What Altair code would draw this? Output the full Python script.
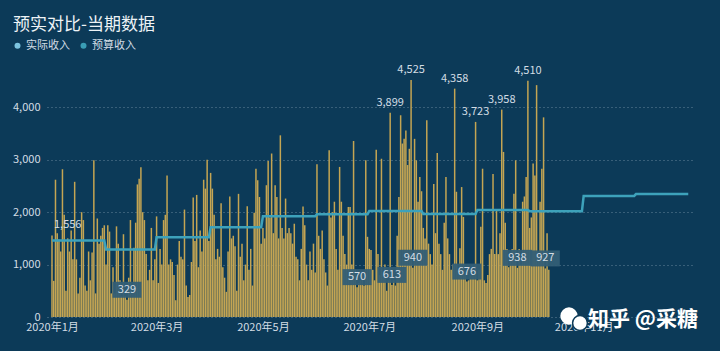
import altair as alt
import pandas as pd

# ---- data ----
jan = [1556, 690, 2620, 1600, 1480, 1250, 2820, 1950, 500, 1500, 1250, 1650, 1100, 2580, 1100, 450,
       750, 2000, 1850, 600, 500, 1250, 700, 1230, 2990, 450, 1880, 1400, 1550, 1700, 1750]
feb = [1000, 1750, 1630, 450, 950, 450, 1730, 1400, 700, 400, 1580, 400, 329, 750, 1850, 450, 1320,
       1800, 2530, 2640, 2860, 2000, 1850, 1200, 700, 900, 1700, 700, 1100]
mar = [1920, 650, 1300, 1000, 1850, 1950, 2700, 1000, 1100, 1050, 800, 320, 1000, 1450, 1150, 1100,
       2050, 600, 380, 420, 1050, 2280, 1450, 2330, 950, 1650, 1250, 2620, 2450, 3000, 1450]
apr = [2750, 2450, 1950, 1100, 1300, 1150, 2170, 950, 750, 480, 1250, 2300, 1500, 1550, 1350, 500,
       2350, 1150, 1400, 700, 1000, 2115, 900, 1300, 600, 1990, 2830, 2610, 2290, 1400]
may = [1700, 1500, 2515, 2977, 1900, 3120, 1600, 2515, 2290, 1500, 3467, 1700, 1500, 2260, 1600, 1700,
       1600, 1400, 1780, 1150, 1100, 700, 1300, 2110, 1750, 1000, 700, 1250, 900, 1400, 850]
jun = [2914, 1550, 1300, 1650, 1100, 850, 600, 3181, 1900, 2000, 2200, 1300, 900, 2864, 2200, 1550,
       1200, 1000, 2100, 2100, 1000, 3359, 900, 570, 650, 700, 800, 600, 2990, 1530]
jul = [1300, 1280, 900, 700, 3193, 1200, 800, 3020, 800, 1000, 500, 700, 3899, 613, 700, 600, 1550,
       2290, 3850, 3310, 3400, 3560, 2900, 3210, 4525, 940, 3400, 2990, 2200, 2670, 2400]
aug = [1700, 1500, 3754, 1400, 1200, 1000, 2540, 1600, 3130, 1400, 1200, 900, 1800, 2670, 1500, 1200,
       900, 1000, 4358, 2390, 900, 1310, 2480, 1910, 800, 676, 700, 800, 900, 800, 3723]
sep = [700, 900, 1720, 2830, 700, 650, 800, 1200, 1300, 2730, 1200, 2040, 1200, 1600, 3958, 3150,
       1800, 1300, 950, 1100, 1300, 2350, 2990, 938, 1300, 1000, 2200, 2300, 2670, 4510]
oct_ = [1700, 1900, 2930, 2700, 4425, 1200, 2200, 2830, 3810, 927, 1600, 900]

budget_monthly = [1460, 1290, 1520, 1715, 1925, 1960, 2025, 1965, 2040, 2020, 2310, 2345]

high_label_dates = ["2020-07-13", "2020-07-25", "2020-08-19", "2020-08-31", "2020-09-15", "2020-09-30"]
first_label_date = ["2020-01-01"]
box_label_dates = ["2020-02-13", "2020-06-24", "2020-07-14", "2020-07-26", "2020-08-26",
                   "2020-09-24", "2020-10-10"]

series_names = ["实际收入", "预算收入"]
x_tick_dates = ["2020-01-01", "2020-03-01", "2020-05-01", "2020-07-01", "2020-09-01", "2020-11-01"]
y_ticks = [0, 1000, 2000, 3000, 4000]

# ---- tables ----
actual = jan + feb + mar + apr + may + jun + jul + aug + sep + oct_
act_days = pd.date_range("2020-01-01", periods=len(actual), freq="D")
df_bar = pd.DataFrame({"date": act_days.strftime("%Y-%m-%dT00:00:00"),
                       "day": act_days.strftime("%Y-%m-%d"), "value": actual})
all_days = pd.date_range("2020-01-01", "2020-12-31", freq="D")
df_line = pd.DataFrame({"date": all_days.strftime("%Y-%m-%dT00:00:00"),
                        "budget": [budget_monthly[d.month - 1] for d in all_days]})
df_high = df_bar[df_bar["day"].isin(high_label_dates)]
df_first = df_bar[df_bar["day"].isin(first_label_date)]
df_box = df_bar[df_bar["day"].isin(box_label_dates)]
df_leg = pd.DataFrame({"series": series_names})

BG = "#0c3a58"
GOLD = "#c4a553"
LINE = "#3da2bb"
TXT = "#d3dde5"
FONT = "Noto Sans CJK SC"

xscale = alt.Scale(domain=[alt.DateTime(year=2020, month=1, date=1),
                           alt.DateTime(year=2021, month=1, date=1)])
yscale = alt.Scale(domain=[0, 5000], nice=False)

xaxis = alt.Axis(values=[alt.DateTime(year=int(s[:4]), month=int(s[5:7]), date=1) for s in x_tick_dates],
                 format="%Y年%-m月", labelColor=TXT, labelFontSize=11, labelFont=FONT, ticks=False,
                 domain=False, grid=False, title=None, labelPadding=4)
yaxis = alt.Axis(values=y_ticks, format=",.0f", labelColor=TXT, labelFontSize=11, labelFont=FONT,
                 ticks=False, domain=False, grid=True, gridColor="#6f8ea3", gridDash=[1, 3],
                 gridOpacity=0.9, title=None, labelPadding=7)

bars = alt.Chart(df_bar).mark_bar(width=1.5, color=GOLD).encode(
    x=alt.X("date:T", scale=xscale, axis=xaxis),
    y=alt.Y("value:Q", scale=yscale, axis=yaxis),
)

line = alt.Chart(df_line).mark_line(color=LINE, strokeWidth=2.5).encode(
    x=alt.X("date:T", scale=xscale),
    y=alt.Y("budget:Q", scale=yscale),
)

high_txt = alt.Chart(df_high).mark_text(color=TXT, fontSize=11, font=FONT, dy=-10,
                                        baseline="middle").encode(
    x=alt.X("date:T", scale=xscale), y=alt.Y("value:Q", scale=yscale),
    text=alt.Text("value:Q", format=",.0f"))

first_txt = alt.Chart(df_first).mark_text(color=TXT, fontSize=11, font=FONT, dy=-10, dx=2,
                                          align="left", baseline="middle").encode(
    x=alt.X("date:T", scale=xscale), y=alt.Y("value:Q", scale=yscale),
    text=alt.Text("value:Q", format=",.0f"))

box_shape = "M-1.45,-0.8 L1.45,-0.8 L1.45,0.8 L-1.45,0.8 Z"
boxes = alt.Chart(df_box).mark_point(shape=box_shape, size=400, filled=True, fill="#335e76",
                                     opacity=0.95, strokeWidth=0, yOffset=-10).encode(
    x=alt.X("date:T", scale=xscale), y=alt.Y("value:Q", scale=yscale))
box_txt = alt.Chart(df_box).mark_text(color=TXT, fontSize=11, font=FONT, dy=-10,
                                      baseline="middle").encode(
    x=alt.X("date:T", scale=xscale), y=alt.Y("value:Q", scale=yscale),
    text=alt.Text("value:Q", format=",.0f"))

legend_layer = alt.Chart(df_leg).mark_point(filled=True, opacity=0).encode(
    x=alt.value(0), y=alt.value(0),
    color=alt.Color("series:N",
                    scale=alt.Scale(domain=series_names, range=["#7cc3df", "#3a9db5"]),
                    legend=alt.Legend(orient="none", legendX=-35, legendY=-15, direction="horizontal",
                                      title=None, symbolType="circle", symbolSize=36,
                                      symbolOpacity=1, symbolStrokeWidth=0, labelColor=TXT,
                                      labelFontSize=11, labelFont=FONT, columnPadding=8,
                                      labelOffset=3)))

title = alt.Chart(df_leg.head(1)).mark_text(text="预实对比-当期数据", color="#eef3f6", fontSize=17,
                                             font=FONT, align="left", baseline="middle").encode(
    x=alt.value(-34), y=alt.value(-30))

wm = alt.Chart(df_leg.head(1)).mark_text(text="知乎 @采糖", color="#ffffff", fontSize=21,
                                          font=FONT, align="left", baseline="middle",
                                          fontWeight="bold").encode(
    x=alt.value(541), y=alt.value(265))
wm_icon1 = alt.Chart(df_leg.head(1)).mark_point(shape="circle", size=300, filled=True,
                                                 color="#ffffff", opacity=1).encode(
    x=alt.value(522), y=alt.value(261))
wm_icon2 = alt.Chart(df_leg.head(1)).mark_point(shape="circle", size=220, filled=True,
                                                 color="#ffffff", opacity=1, stroke=BG,
                                                 strokeWidth=1.5).encode(
    x=alt.value(533), y=alt.value(268))

chart = alt.layer(bars, line, high_txt, first_txt, boxes, box_txt, legend_layer, title,
                  wm_icon1, wm_icon2, wm).properties(
    width=648, height=262,
    autosize=alt.AutoSizeParams(type="none"),
    padding={"left": 47, "top": 55, "right": 25, "bottom": 34},
    background=BG,
).configure_view(stroke=None)

chart.save("out.html", embed_options={"renderer": "svg", "actions": False})
